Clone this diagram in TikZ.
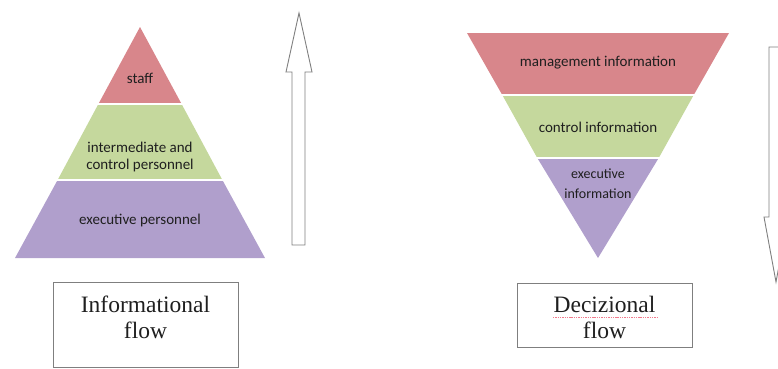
\documentclass[tikz,border=0pt]{standalone}
\usepackage{fontspec}
\setmainfont{Liberation Serif}
\newfontfamily\bandfont{Carlito}
\definecolor{bandred}{HTML}{D8868B}
\definecolor{bandgreen}{HTML}{C5D89D}
\definecolor{bandpurple}{HTML}{B09FCC}
\definecolor{outline}{HTML}{7F7F7F}
\definecolor{spellred}{HTML}{F27A8C}
\tikzset{
  bandtext/.style={font=\bandfont\fontsize{15}{17}\selectfont, text=black!88, align=center, inner sep=0pt},
  flowbox/.style={draw=outline, line width=1.1pt, fill=white},
  flowtext/.style={font=\fontsize{23.5}{26}\selectfont, text=black!88, align=center, inner sep=0pt},
  hollowarrow/.style={draw=outline, line width=0.9pt, fill=white, line join=miter}
}
\begin{document}
\begin{tikzpicture}[x=1pt, y=-1pt]
\useasboundingbox (0,0) rectangle (778,368);
\clip (0,0) rectangle (778,368);

% ---- left pyramid: apex (140,27), base y=258 from x=15 to x=265
\fill[bandpurple] (57.6,180) -- (222.4,180) -- (265,258) -- (15,258) -- cycle;
\fill[bandgreen]  (98.4,104) -- (181.6,104) -- (222.4,180) -- (57.6,180) -- cycle;
\fill[bandred]    (140,27) -- (181.6,104) -- (98.4,104) -- cycle;
\draw[white, line width=2pt] (50,180) -- (230,180) (90,104) -- (190,104);

\node[bandtext] (staff) at (140,78) {staff};
\node[bandtext] (mid) at (140,156.5) {intermediate and\\control personnel};
\node[bandtext] (exec) at (140,220) {executive personnel};

% ---- upward hollow arrow
\draw[hollowarrow] (299,13) -- (312,72) -- (305,72) -- (305,245) -- (292,245)
  -- (292,72) -- (286,72) -- cycle;

% ---- inverted pyramid: top y=33 from x=467 to x=729, apex (598,258)
\fill[bandred]    (467,33) -- (729,33) -- (694,94.5) -- (502,94.5) -- cycle;
\fill[bandgreen]  (502,94.5) -- (694,94.5) -- (659,157.5) -- (537,157.5) -- cycle;
\fill[bandpurple] (537,157.5) -- (659,157.5) -- (598,258) -- cycle;
\draw[white, line width=2pt] (495,94.5) -- (700,94.5) (530,157.5) -- (665,157.5);

\node[bandtext] (mgmt) at (598,63) {management information};
\node[bandtext] (ctrl) at (598,127) {control information};
\node[bandtext, font=\bandfont\fontsize{14}{20}\selectfont] (execinfo) at (598,183.5) {executive\\information};

% ---- downward hollow arrow, running past the right edge
\draw[hollowarrow] (769,47) -- (783,47) -- (783,217) -- (788,217) -- (776,282)
  -- (764,217) -- (769,217) -- cycle;

% ---- caption boxes
\node[flowbox, minimum width=185pt, minimum height=85pt, anchor=north west] (infobox) at (53,282) {};
\node[flowtext] (infotext) at (145.5,317.5) {Informational\\flow};

\node[flowbox, minimum width=175pt, minimum height=64pt, anchor=north west] (decbox) at (517,283) {};
\node[flowtext] (dectext) at (604.5,317.5) {Decizional\\flow};
% spell-check underline beneath the first word
\draw[spellred, line width=0.6pt, dash pattern=on 1.4pt off 0.9pt] (553,317.5) -- (657,317.5);
\end{tikzpicture}
\end{document}
